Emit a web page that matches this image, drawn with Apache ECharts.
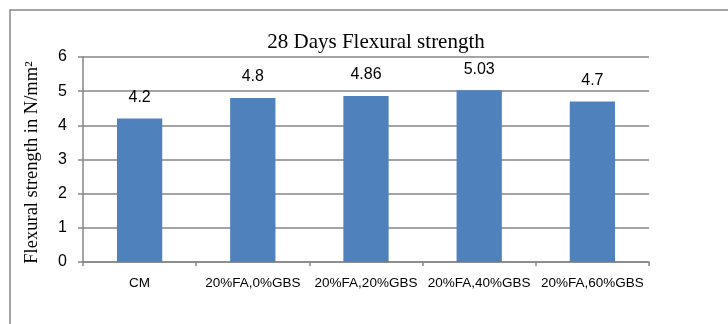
<!DOCTYPE html>
<html><head><meta charset="utf-8">
<script src="https://cdn.jsdelivr.net/npm/echarts@6/dist/echarts.min.js"></script>
<style>html,body{margin:0;padding:0;background:#fff}#c{width:728px;height:324px}</style>
</head><body><div id="c"></div>
<script>
const categories = ["CM", "20%FA,0%GBS", "20%FA,20%GBS", "20%FA,40%GBS", "20%FA,60%GBS"];
const values = [4.2, 4.8, 4.86, 5.03, 4.7];
const yTicks = { min: 0, max: 6, interval: 1 };
const titleText = "28 Days Flexural strength";
const yName = "Flexural strength in N/mm\u00B2";

const chart = echarts.init(document.getElementById('c'), null, { renderer: 'canvas' });
const sans = "'Liberation Sans', Arial, sans-serif";
const serif = "'Liberation Serif', 'Times New Roman', serif";
chart.setOption({
  animation: false,
  backgroundColor: '#fff',
  title: { text: titleText, left: 371, top: 27, textAlign: 'center',
    textStyle: { fontFamily: serif, fontWeight: 'normal', fontSize: 21, color: '#000' } },
  grid: { left: 83, top: 57, right: 79, bottom: 62, containLabel: false },
  graphic: [{ type: 'rect', shape: { x: 10, y: 10, width: 740, height: 340 },
    style: { fill: 'none', stroke: '#868686', lineWidth: 1.5 }, silent: true }],
  xAxis: { type: 'category', data: categories,
    axisLine: { lineStyle: { color: '#868686', width: 1.5 } },
    axisTick: { show: true, length: 4, lineStyle: { color: '#868686', width: 1.5 } },
    axisLabel: { color: '#000', fontFamily: sans, fontSize: 13.5, margin: 14, interval: 0 } },
  yAxis: { type: 'value', min: yTicks.min, max: yTicks.max, interval: yTicks.interval,
    name: yName, nameLocation: 'middle', nameGap: 41,
    nameTextStyle: { fontFamily: serif, fontSize: 18.5, color: '#000', padding: [0, 6, 0, 0] },
    axisLine: { show: true, lineStyle: { color: '#868686', width: 1.5 } },
    axisTick: { show: true, length: 5, lineStyle: { color: '#868686', width: 1.5 } },
    axisLabel: { color: '#000', fontFamily: sans, fontSize: 16, margin: 16 },
    splitLine: { lineStyle: { color: '#868686', width: 1.5 } } },
  series: [{ type: 'bar', data: values, barWidth: '40%',
    itemStyle: { color: '#4f81bd' },
    label: { show: true, position: 'top', distance: 13, color: '#000', fontFamily: sans, fontSize: 16 } }]
});
</script></body></html>
